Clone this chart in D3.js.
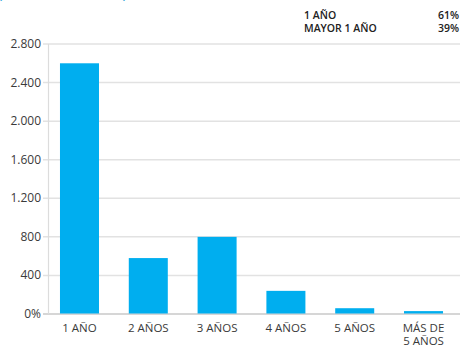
<!DOCTYPE html>
<html>
<head>
<meta charset="utf-8">
<script src="https://cdn.jsdelivr.net/npm/d3@7"></script>
<style>
  body { margin: 0; background: #fff; }
  svg text { font-family: "Open Sans", Lato, sans-serif; fill: #3a3a3a; }
</style>
</head>
<body>
<div id="chart"></div>
<script>
// Chart data
let categories = ["1 AÑO", "2 AÑOS", "3 AÑOS", "4 AÑOS", "5 AÑOS", "MÁS DE\n5 AÑOS"];
let values = [2600, 580, 800, 240, 60, 30];
let yTicks = [0, 400, 800, 1200, 1600, 2000, 2400, 2800];
let legendLabels = ["1 AÑO", "MAYOR 1 AÑO"];
let legendValues = ["61%", "39%"];

const width = 460, height = 347;

let svg = d3.select("#chart")
  .append("svg")
  .attr("width", width)
  .attr("height", height);

// Scales
let x = d3.scaleBand()
  .domain(categories)
  .range([48, 455])
  .paddingInner(0.433)
  .paddingOuter(0.174);

let y = d3.scaleLinear()
  .domain([0, 2800])
  .range([314, 44]);

// format numbers with dots for thousands, 0 shown as 0%
let fmt = d => d === 0 ? "0%" : d3.format(",")(d).replace(/,/g, ".");

// Gridlines
svg.append("g")
  .selectAll("line")
  .data(yTicks)
  .join("line")
  .attr("x1", 43)
  .attr("x2", width)
  .attr("y1", d => y(d))
  .attr("y2", d => y(d))
  .attr("stroke", d => d === 0 ? "#d6d6d6" : "#e2e2e2")
  .attr("stroke-width", d => d === 0 ? 2 : 1.5);

// Vertical axis line
svg.append("line")
  .attr("x1", 48.5).attr("x2", 48.5)
  .attr("y1", y(2800)).attr("y2", y(0))
  .attr("stroke", "#dcdcdc")
  .attr("stroke-width", 1.2);

// Y tick labels
svg.append("g")
  .selectAll("text")
  .data(yTicks)
  .join("text")
  .attr("x", 41)
  .attr("y", d => y(d) + 4)
  .attr("text-anchor", "end")
  .style("font-size", "12px")
  .text(fmt);

// Bars
svg.append("g")
  .selectAll("rect")
  .data(values)
  .join("rect")
  .attr("x", (d, i) => x(categories[i]))
  .attr("width", x.bandwidth())
  .attr("y", d => y(d))
  .attr("height", d => y(0) - y(d) - 0.5)
  .attr("fill", "#00aeef");

// X labels (split on newline)
svg.append("g")
  .selectAll("text")
  .data(categories)
  .join("text")
  .attr("x", d => x(d) + x.bandwidth() / 2)
  .attr("y", 332)
  .attr("text-anchor", "middle")
  .style("font-size", "11.5px")
  .each(function (d) {
    let lines = d.split("\n");
    d3.select(this).selectAll("tspan")
      .data(lines)
      .join("tspan")
      .attr("x", x(d) + x.bandwidth() / 2)
      .attr("dy", (l, i) => i === 0 ? 0 : 13)
      .text(l => l);
  });

// Legend at top right
let legend = svg.append("g").style("font-size", "10.5px").style("font-weight", 600);
legend.selectAll(".lab")
  .data(legendLabels)
  .join("text")
  .attr("class", "lab")
  .attr("x", 304)
  .attr("y", (d, i) => 19 + i * 13)
  .style("fill", "#222")
  .text(d => d);
legend.selectAll(".val")
  .data(legendValues)
  .join("text")
  .attr("class", "val")
  .attr("x", 459)
  .attr("y", (d, i) => 19 + i * 13)
  .attr("text-anchor", "end")
  .style("fill", "#222")
  .text(d => d);

// Cut-off subtitle at the very top
svg.append("text")
  .attr("x", -2)
  .attr("y", -2)
  .style("font-size", "15px")
  .style("fill", "#2a9fd8")
  .text("(número de casos)");
</script>
</body>
</html>
